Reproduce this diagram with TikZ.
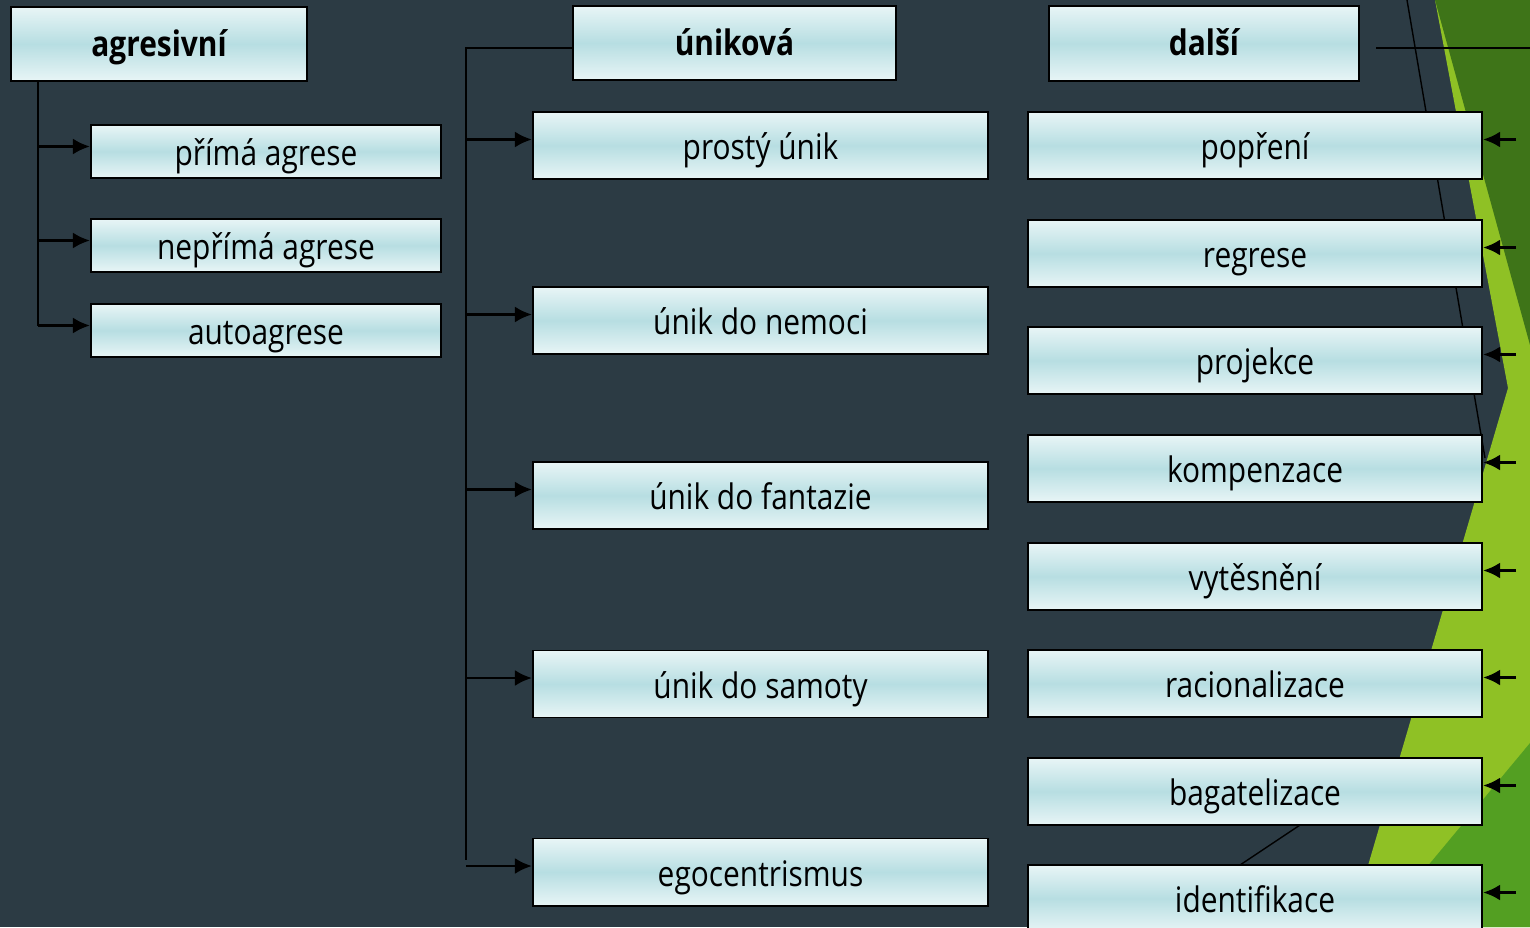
\documentclass[tikz,border=0pt]{standalone}
\usepackage{fontspec}
\setmainfont{Open Sans}[FakeStretch=0.85]
\usetikzlibrary{arrows.meta}
\definecolor{slate}{HTML}{2C3B44}
\definecolor{dkgreen}{HTML}{3E7418}
\definecolor{ltgreen}{HTML}{8FC125}
\definecolor{mdgreen}{HTML}{539F22}
\definecolor{boxlight}{HTML}{E8F5F6}
\definecolor{boxmid}{HTML}{B7DEE2}
\definecolor{thin}{HTML}{20292F}
\tikzset{
  box/.style={draw=black,line width=0.55pt,top color=boxlight,bottom color=boxlight,middle color=boxmid,
    inner sep=0pt,minimum height=0.67cm,text height=9pt,text depth=1pt,font=\fontsize{10}{12}\selectfont},
  headbox/.style={box,minimum height=0.74cm,text height=8pt,font=\fontsize{10}{12}\selectfont\bfseries},
  link/.style={line width=0.75pt,draw=black},
  arr/.style={link,-{Latex[length=1.7mm,width=1.6mm]}},
}
\begin{document}
\begin{tikzpicture}[x=0.01cm,y=-0.01cm]
    \useasboundingbox (0,0) rectangle (1530,927);
    % background
    \fill[slate] (0,0) rectangle (1530,927);
    \fill[ltgreen] (1435,0) -- (1508,388) -- (1350,927) -- (1530,927) -- (1530,0) -- cycle;
    \fill[dkgreen] (1435,0) -- (1530,0) -- (1530,345) -- cycle;
    \fill[mdgreen] (1530,743) -- (1530,927) -- (1377,927) -- cycle;
    \draw[thin,line width=0.4pt] (1407,0) -- (1485,458);
    \draw[thin,line width=0.4pt] (1225,875) -- (1315,815);
    % agresivni
    \node[headbox,minimum width=2.96cm] (agr) at (159,44) {agresivní};
    \node[box,minimum width=3.5cm,minimum height=0.53cm] (agr1) at (266,151.5) {přímá agrese};
    \node[box,minimum width=3.5cm,minimum height=0.53cm] (agr2) at (266,245.5) {nepřímá agrese};
    \node[box,minimum width=3.5cm,minimum height=0.53cm] (agr3) at (266,330.5) {autoagrese};
    \coordinate (agrtrunk) at (38,81);
    \draw[link] (agrtrunk) -- ([yshift=0.05cm]agrtrunk |- agr3.west);
    \draw[arr] ([yshift=0.05cm]agrtrunk |- agr1.west) -- ([yshift=0.05cm]agr1.west);
    \draw[arr] ([yshift=0.05cm]agrtrunk |- agr2.west) -- ([yshift=0.05cm]agr2.west);
    \draw[arr] ([yshift=0.05cm]agrtrunk |- agr3.west) -- ([yshift=0.05cm]agr3.west);
    % unikova
    \node[headbox,minimum width=3.23cm] (uni) at (734.5,43) {úniková};
    \node[box,minimum width=4.55cm] (uni1) at (760.5,145.5) {prostý únik};
    \node[box,minimum width=4.55cm] (uni2) at (760.5,320.5) {únik do nemoci};
    \node[box,minimum width=4.55cm] (uni3) at (760.5,495.5) {únik do fantazie};
    \node[box,minimum width=4.55cm] (uni4) at (760.5,684) {únik do samoty};
    \node[box,minimum width=4.55cm] (uni5) at (760.5,872) {egocentrismus};
    \coordinate (unitrunk) at (466,860);
    \draw[link] ([yshift=-0.05cm]uni.west) -| (unitrunk);
    \draw[arr] ([yshift=0.06cm]unitrunk |- uni1.west) -- ([yshift=0.06cm]uni1.west);
    \draw[arr] ([yshift=0.06cm]unitrunk |- uni2.west) -- ([yshift=0.06cm]uni2.west);
    \draw[arr] ([yshift=0.06cm]unitrunk |- uni3.west) -- ([yshift=0.06cm]uni3.west);
    \draw[arr] ([yshift=0.06cm]unitrunk |- uni4.west) -- ([yshift=0.06cm]uni4.west);
    \draw[arr] ([yshift=0.06cm]unitrunk |- uni5.west) -- ([yshift=0.06cm]uni5.west);
    % dalsi
    \node[headbox,minimum width=3.1cm,minimum height=0.75cm] (dal) at (1204,43.5) {další};
    \node[box,minimum width=4.54cm] (dal1) at (1255,145.5) {popření};
    \node[box,minimum width=4.54cm] (dal2) at (1255,253.5) {regrese};
    \node[box,minimum width=4.54cm] (dal3) at (1255,360.5) {projekce};
    \node[box,minimum width=4.54cm] (dal4) at (1255,468.5) {kompenzace};
    \node[box,minimum width=4.54cm] (dal5) at (1255,576.5) {vytěsnění};
    \node[box,minimum width=4.54cm] (dal6) at (1255,683.5) {racionalizace};
    \node[box,minimum width=4.54cm] (dal7) at (1255,791.5) {bagatelizace};
    \node[box,minimum width=4.54cm] (dal8) at (1255,898.5) {identifikace};
    \coordinate (dalend) at (1535,48);
    \coordinate (daltrunk) at (1516,0);
    \draw[link] ([xshift=0.16cm]dal.east |- dalend) -- (dalend);
    \draw[arr] ([yshift=0.06cm]daltrunk |- dal1.east) -- ([yshift=0.06cm]dal1.east);
    \draw[arr] ([yshift=0.06cm]daltrunk |- dal2.east) -- ([yshift=0.06cm]dal2.east);
    \draw[arr] ([yshift=0.06cm]daltrunk |- dal3.east) -- ([yshift=0.06cm]dal3.east);
    \draw[arr] ([yshift=0.06cm]daltrunk |- dal4.east) -- ([yshift=0.06cm]dal4.east);
    \draw[arr] ([yshift=0.06cm]daltrunk |- dal5.east) -- ([yshift=0.06cm]dal5.east);
    \draw[arr] ([yshift=0.06cm]daltrunk |- dal6.east) -- ([yshift=0.06cm]dal6.east);
    \draw[arr] ([yshift=0.06cm]daltrunk |- dal7.east) -- ([yshift=0.06cm]dal7.east);
    \draw[arr] ([yshift=0.06cm]daltrunk |- dal8.east) -- ([yshift=0.06cm]dal8.east);
\end{tikzpicture}
\end{document}
